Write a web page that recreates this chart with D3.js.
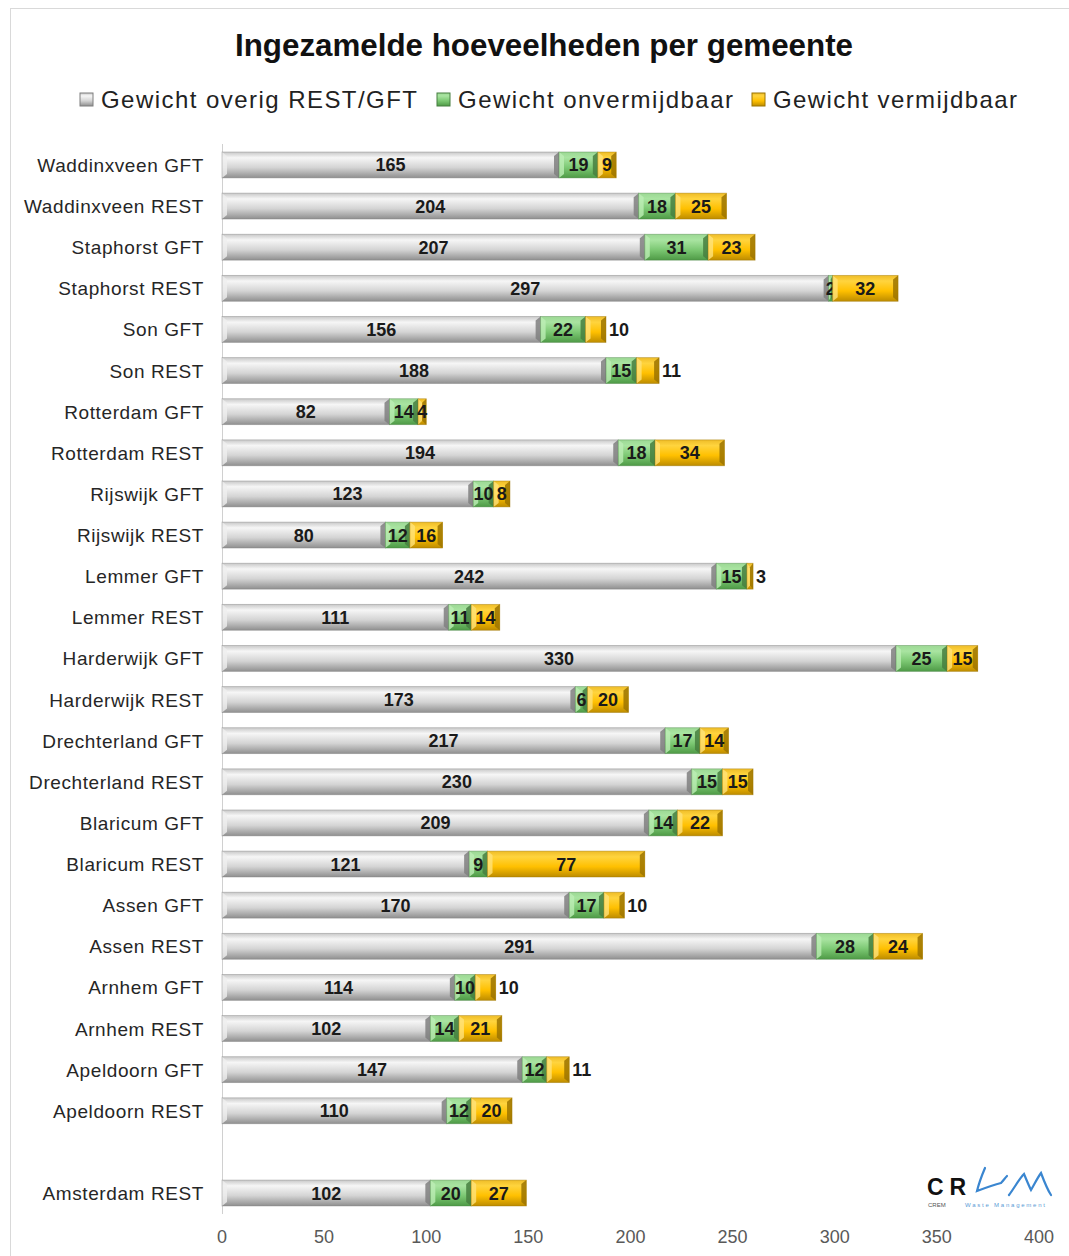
<!DOCTYPE html>
<html>
<head>
<meta charset="utf-8">
<script src="https://cdn.jsdelivr.net/npm/d3@7"></script>
<style>
  body { margin: 0; background: #fff; }
  text { font-family: "Liberation Sans", Arial, sans-serif; }
</style>
</head>
<body>
<svg id="chart" width="1069" height="1256"></svg>
<script>
// categories, top to bottom ("" = empty row)
var categories = ["Waddinxveen GFT", "Waddinxveen REST", "Staphorst GFT", "Staphorst REST",
  "Son GFT", "Son REST", "Rotterdam GFT", "Rotterdam REST", "Rijswijk GFT", "Rijswijk REST",
  "Lemmer GFT", "Lemmer REST", "Harderwijk GFT", "Harderwijk REST", "Drechterland GFT",
  "Drechterland REST", "Blaricum GFT", "Blaricum REST", "Assen GFT", "Assen REST",
  "Arnhem GFT", "Arnhem REST", "Apeldoorn GFT", "Apeldoorn REST", "", "Amsterdam REST"];

var overig =       [165, 204, 207, 297, 156, 188, 82, 194, 123, 80, 242, 111, 330, 173, 217, 230, 209, 121, 170, 291, 114, 102, 147, 110, null, 102];
var onvermijdbaar = [19, 18, 31, 2, 22, 15, 14, 18, 10, 12, 15, 11, 25, 6, 17, 15, 14, 9, 17, 28, 10, 14, 12, 12, null, 20];
var vermijdbaar =   [9, 25, 23, 32, 10, 11, 4, 34, 8, 16, 3, 14, 15, 20, 14, 15, 22, 77, 10, 24, 10, 21, 11, 20, null, 27];

// rows whose "vermijdbaar" label sits to the right of the bar
var outsideLabels = ["Son GFT", "Son REST", "Lemmer GFT", "Assen GFT", "Arnhem GFT", "Apeldoorn GFT"];

var seriesNames = ["Gewicht overig REST/GFT", "Gewicht onvermijdbaar", "Gewicht vermijdbaar"];
var xTicks = [0, 50, 100, 150, 200, 250, 300, 350, 400];

var svg = d3.select("#chart");
var defs = svg.append("defs");

var palettes = [
  {id: "g0", stops: ["#c8c8c8", "#f6f6f6", "#d4d4d4", "#8f8f8f"], light: "#efefef", dark: "#7f7f7f"},
  {id: "g1", stops: ["#9cd894", "#a9e4a1", "#7cc873", "#4e9a46"], light: "#bdeeb5", dark: "#467f40"},
  {id: "g2", stops: ["#eebc28", "#ffd43e", "#ffc000", "#bd8c00"], light: "#ffe27a", dark: "#9c7400"}
];
palettes.forEach(function(p) {
  var g = defs.append("linearGradient").attr("id", p.id)
    .attr("x1", 0).attr("y1", 0).attr("x2", 0).attr("y2", 1);
  [0, 0.22, 0.6, 1].forEach(function(o, i) {
    g.append("stop").attr("offset", o).attr("stop-color", p.stops[i]);
  });
});

// outer border
svg.append("rect").attr("x", 10.5).attr("y", 8.5).attr("width", 1070).attr("height", 1260)
  .attr("fill", "none").attr("stroke", "#d9d9d9");

svg.append("text").attr("x", 544).attr("y", 56).attr("text-anchor", "middle")
  .attr("font-size", 31).attr("font-weight", "bold").attr("fill", "#111")
  .attr("textLength", 618).attr("lengthAdjust", "spacingAndGlyphs")
  .text("Ingezamelde hoeveelheden per gemeente");

var x = d3.scaleLinear().domain([0, 400]).range([222, 1039]);
var y = d3.scaleBand().domain(d3.range(categories.length))
  .range([144.4, 1213.6]).paddingInner(0.37).paddingOuter(0.185);

// legend
var legendX = [80, 437, 752];
var legendW = [316, 275, 244];
seriesNames.forEach(function(name, i) {
  var p = palettes[i];
  svg.append("rect").attr("x", legendX[i]).attr("y", 93).attr("width", 13).attr("height", 13)
    .attr("fill", "url(#" + p.id + ")").attr("stroke", p.dark).attr("stroke-width", 1);
  svg.append("text").attr("x", legendX[i] + 21).attr("y", 108)
    .attr("font-size", 24).attr("fill", "#222")
    .attr("textLength", legendW[i]).attr("lengthAdjust", "spacing")
    .text(name);
});

// axis line
svg.append("line").attr("x1", 222.5).attr("x2", 222.5).attr("y1", 144).attr("y2", 1214)
  .attr("stroke", "#d0d0d0");

// x tick labels
svg.append("g").selectAll("text").data(xTicks).enter().append("text")
  .attr("x", function(d) { return x(d); }).attr("y", 1243)
  .attr("text-anchor", "middle").attr("font-size", 18).attr("fill", "#595959")
  .text(function(d) { return d; });

// category labels
svg.append("g").selectAll("text").data(categories).enter().append("text")
  .attr("x", 204).attr("y", function(d, i) { return y(i) + y.bandwidth() / 2 + 7; })
  .attr("text-anchor", "end").attr("font-size", 19).attr("fill", "#262626")
  .attr("letter-spacing", 0.6)
  .text(function(d) { return d; });

var rows = categories.map(function(c, i) {
  return {cat: c, i: i, vals: [overig[i], onvermijdbaar[i], vermijdbaar[i]]};
}).filter(function(r) { return r.vals[0] != null; });

var bars = svg.append("g");
rows.forEach(function(r) {
  var start = 0;
  var y0 = y(r.i), h = y.bandwidth(), y1 = y0 + h;
  r.vals.forEach(function(v, s) {
    var p = palettes[s];
    var xa = x(start), xb = x(start + v);
    var g = bars.append("g");
    g.append("rect").attr("x", xa).attr("y", y0).attr("width", xb - xa).attr("height", h)
      .attr("fill", "url(#" + p.id + ")");
    var b = Math.min(5, (xb - xa) / 2);
    // bevel caps
    g.append("polygon").attr("points", [[xa, y0], [xa + b, y0 + 4], [xa + b, y1 - 4], [xa, y1]].join(" "))
      .attr("fill", p.light).attr("opacity", 0.8);
    g.append("polygon").attr("points", [[xb, y0], [xb - b, y0 + 4], [xb - b, y1 - 4], [xb, y1]].join(" "))
      .attr("fill", p.dark).attr("opacity", 0.85);
    g.append("rect").attr("x", xa).attr("y", y0).attr("width", xb - xa).attr("height", h)
      .attr("fill", "none").attr("stroke", p.dark).attr("stroke-opacity", 0.5).attr("stroke-width", 0.8);

    var outside = s === 2 && outsideLabels.indexOf(r.cat) >= 0;
    bars.append("text")
      .attr("x", outside ? xb + 3 : (xa + xb) / 2)
      .attr("y", y0 + h / 2 + 6.5)
      .attr("text-anchor", outside ? "start" : "middle")
      .attr("font-size", 18).attr("font-weight", "bold").attr("fill", "#1a1a1a")
      .text(v);
    start += v;
  });
});

// logo
var logo = svg.append("g").attr("transform", "translate(927,1195)");
logo.append("text").attr("x", 0).attr("y", 0).attr("font-size", 23).attr("font-weight", "bold")
  .attr("fill", "#111").attr("letter-spacing", 6).text("CR");
logo.append("path").attr("d", "M58,-27 C55,-20 52,-12 50,-4 C58,-7 66,-10 74,-12 C76,-14 78,-17 80,-19")
  .attr("fill", "none").attr("stroke", "#3a86d0").attr("stroke-width", 2.2).attr("stroke-linecap", "round");
logo.append("path").attr("d", "M82,0 C88,-8 92,-16 97,-21 C100,-14 102,-9 104,-5 C108,-12 111,-18 114,-22 C117,-14 120,-6 124,0")
  .attr("fill", "none").attr("stroke", "#3a86d0").attr("stroke-width", 2.2).attr("stroke-linecap", "round");
logo.append("text").attr("x", 1).attr("y", 12).attr("font-size", 6).attr("fill", "#555").text("CREM");
logo.append("text").attr("x", 38).attr("y", 12).attr("font-size", 6).attr("fill", "#5b9bd5")
  .attr("textLength", 80).text("Waste Management");
</script>
</body>
</html>
